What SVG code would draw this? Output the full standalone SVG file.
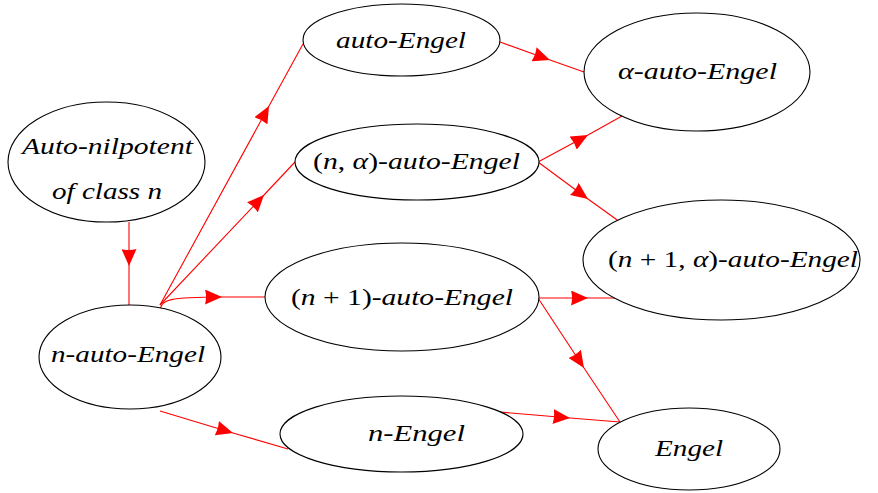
<svg xmlns="http://www.w3.org/2000/svg" width="878" height="493" viewBox="0 0 878 493">
<style>
.node ellipse{fill:#fff;stroke:#000;stroke-width:1.1}
.node text{font-family:"Liberation Serif","Times New Roman",serif;font-style:italic;font-size:24px;fill:#000}
.node text .u{font-style:normal}
.edge{fill:none;stroke:#f00;stroke-width:1.1;marker-mid:url(#ah)}
</style>
<defs>
<marker id="ah" viewBox="0 0 17 15" refX="17" refY="7.5" markerWidth="17" markerHeight="15" markerUnits="userSpaceOnUse" orient="auto">
<path d="M0,0 Q2,7.5 0,15 L17,7.5 Z" fill="#f00"/>
</marker>
</defs>
<rect width="878" height="493" fill="#fff"/>
<g id="connectors">
<path class="edge" d="M129,222 L129,266 L129,305"/>
<path class="edge" d="M160,305 L269,106 L303,44"/>
<path class="edge" d="M160,305 L264,195 L295,162"/>
<path class="edge" d="M160,312 C160,299 170,297 222,297 L265,297"/>
<path class="edge" d="M160,411 L233,433 L288,449"/>
<path class="edge" d="M500,42 L550,60 L584,72"/>
<path class="edge" d="M538,162 L588,135 L622,116"/>
<path class="edge" d="M538,162 L588,199 L620,222"/>
<path class="edge" d="M538,298 L588,298 L622,298"/>
<path class="edge" d="M538,298 L584,368 L620,422"/>
<path class="edge" d="M500,412 L570,418 L620,422"/>
</g>
<g id="auto-nilpotent" class="node">
<ellipse cx="106.5" cy="162" rx="98.5" ry="60"/>
<text x="22" y="154" textLength="171" lengthAdjust="spacingAndGlyphs">Auto-nilpotent</text>
<text x="52" y="199" textLength="110" lengthAdjust="spacingAndGlyphs">of class n</text>
</g>
<g id="n-auto-engel" class="node">
<ellipse cx="130" cy="357" rx="91" ry="52"/>
<text x="51" y="362" textLength="154" lengthAdjust="spacingAndGlyphs">n-auto-Engel</text>
</g>
<g id="auto-engel" class="node">
<ellipse cx="401.5" cy="40" rx="98.5" ry="36"/>
<text x="336" y="48" textLength="130" lengthAdjust="spacingAndGlyphs">auto-Engel</text>
</g>
<g id="n-alpha-auto-engel" class="node">
<ellipse cx="417" cy="162" rx="122" ry="38"/>
<text x="313" y="169" textLength="207" lengthAdjust="spacingAndGlyphs"><tspan class="u">(</tspan>n<tspan class="u">, </tspan>α<tspan class="u">)</tspan>-auto-Engel</text>
</g>
<g id="n1-auto-engel" class="node">
<ellipse cx="402" cy="297" rx="137" ry="54"/>
<text x="291" y="305" textLength="222" lengthAdjust="spacingAndGlyphs"><tspan class="u">(</tspan>n<tspan class="u"> + 1)</tspan>-auto-Engel</text>
</g>
<g id="n-engel" class="node">
<ellipse cx="401.5" cy="434" rx="121.5" ry="38"/>
<text x="368" y="441" textLength="97" lengthAdjust="spacingAndGlyphs">n-Engel</text>
</g>
<g id="alpha-auto-engel" class="node">
<ellipse cx="697" cy="72" rx="113" ry="59"/>
<text x="618" y="79" textLength="159" lengthAdjust="spacingAndGlyphs">α-auto-Engel</text>
</g>
<g id="n1-alpha-auto-engel" class="node">
<ellipse cx="721.5" cy="260" rx="138.5" ry="60"/>
<text x="608" y="267" textLength="250" lengthAdjust="spacingAndGlyphs"><tspan class="u">(</tspan>n<tspan class="u"> + 1, </tspan>α<tspan class="u">)</tspan>-auto-Engel</text>
</g>
<g id="engel" class="node">
<ellipse cx="689" cy="449" rx="91" ry="41"/>
<text x="655" y="456" textLength="68" lengthAdjust="spacingAndGlyphs">Engel</text>
</g>
</svg>
